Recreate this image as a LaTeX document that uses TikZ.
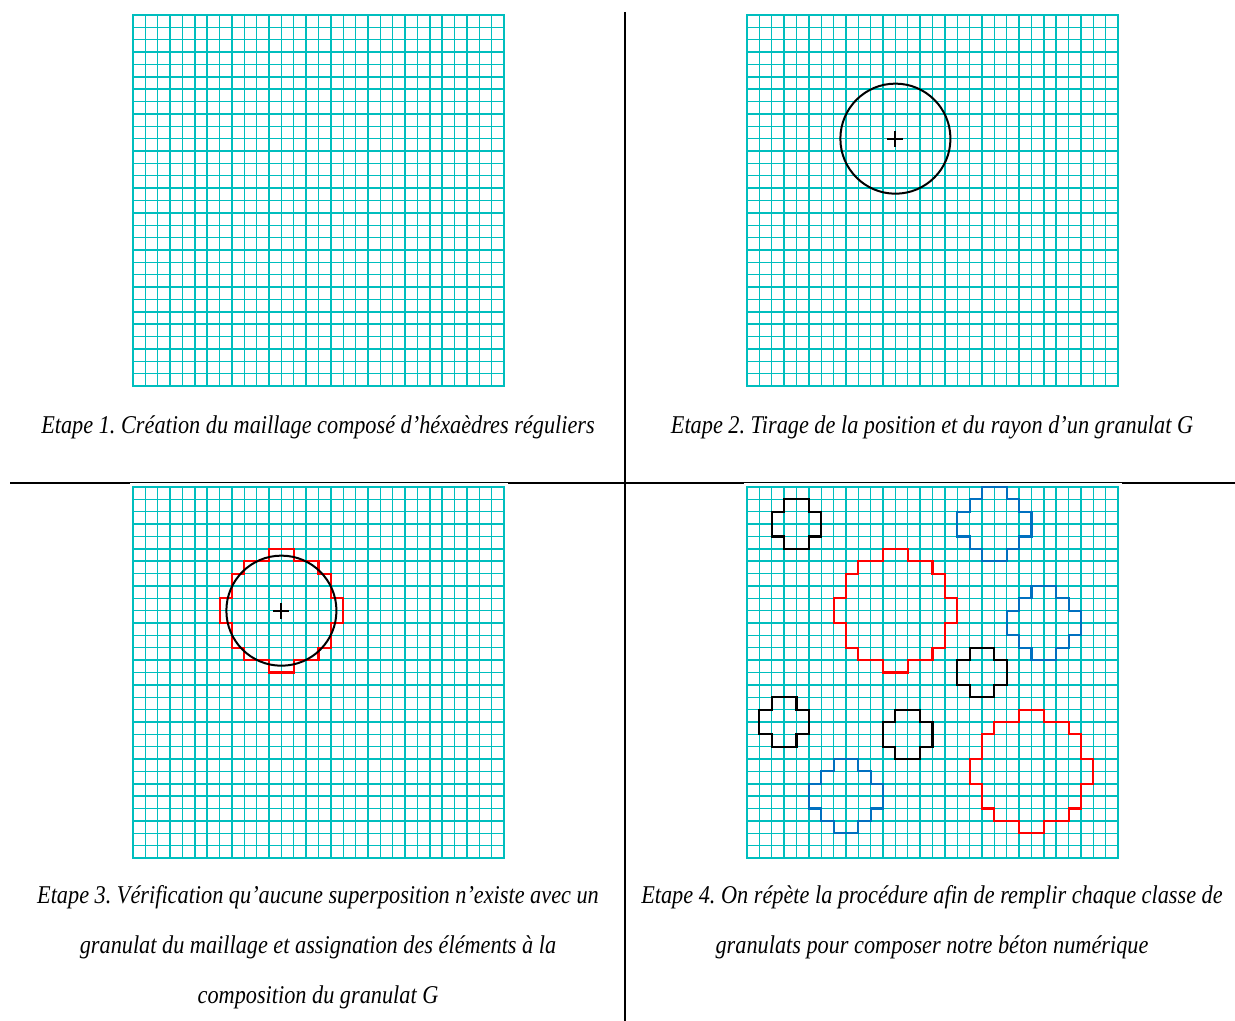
\documentclass[tikz,border=0pt]{standalone}
\usepackage{fontspec}
\setmainfont{Liberation Serif}[FakeStretch=0.87]
\usetikzlibrary{calc}
\frenchspacing
\definecolor{gridc}{RGB}{0,190,190}
\definecolor{granblue}{RGB}{0,112,192}
\definecolor{granred}{RGB}{255,0,0}
\tikzset{
  gridbar/.style={fill=gridc, draw=none},
  rule/.style={draw=black, line width=1pt},
  grain/.style={line width=1.05pt, line join=miter},
  caption/.style={font=\fontsize{12.8}{15}\selectfont\itshape, anchor=base, inner sep=0pt},
  cellunits/.style={x=6.18333pt, y=-6.18333pt},
}
% half width of a grid line, in cell units
\newcommand\hw{0.057}
\newcommand\meshgrid{%
  \foreach \k in {0,...,30}{%
    \fill[gridbar] (\k-\hw,-\hw) rectangle (\k+\hw,30+\hw);
    \fill[gridbar] (-\hw,\k-\hw) rectangle (30+\hw,\k+\hw);
  }}
\newcommand\grainL[2]{\draw[grain,#1,shift={(#2)}] (-1,-5) -- (1,-5) -- (1,-4) -- (3,-4) -- (3,-3) -- (4,-3) -- (4,-1) -- (5,-1) -- (5,1) -- (4,1) -- (4,3) -- (3,3) -- (3,4) -- (1,4) -- (1,5) -- (-1,5) -- (-1,4) -- (-3,4) -- (-3,3) -- (-4,3) -- (-4,1) -- (-5,1) -- (-5,-1) -- (-4,-1) -- (-4,-3) -- (-3,-3) -- (-3,-4) -- (-1,-4) -- cycle;}
\newcommand\grainM[2]{\draw[grain,#1,shift={(#2)}] (-1,-3) -- (1,-3) -- (1,-2) -- (2,-2) -- (2,-1) -- (3,-1) -- (3,1) -- (2,1) -- (2,2) -- (1,2) -- (1,3) -- (-1,3) -- (-1,2) -- (-2,2) -- (-2,1) -- (-3,1) -- (-3,-1) -- (-2,-1) -- (-2,-2) -- (-1,-2) -- cycle;}
\newcommand\grainS[2]{\draw[grain,#1,shift={(#2)}] (-1,-2) -- (1,-2) -- (1,-1) -- (2,-1) -- (2,1) -- (1,1) -- (1,2) -- (-1,2) -- (-1,1) -- (-2,1) -- (-2,-1) -- (-1,-1) -- cycle;}
\newcommand\grainmark[1]{%
  \draw[line width=1pt] (#1) circle[radius=4.45];
  \draw[line width=1pt] ($(#1)+(-0.65,0)$) -- ($(#1)+(0.65,0)$) ($(#1)+(0,-0.65)$) -- ($(#1)+(0,0.65)$);}
\begin{document}
\begin{tikzpicture}[x=0.5pt,y=-0.5pt]
\useasboundingbox (0,0) rectangle (1235,1021);
\fill[white] (0,0) rectangle (1235,1021);
% separators
\draw[rule] (625,12) -- (625,1021);
\draw[rule] (10,483) -- (1235,483);
\fill[white] (130,483) rectangle (508,860);
\fill[white] (744,483) rectangle (1122,860);
% panel 1
\begin{scope}[shift={(133,15)},cellunits]
  \meshgrid
\end{scope}
% panel 2
\begin{scope}[shift={(747,15)},cellunits]
  \meshgrid
  \grainmark{12,10}
\end{scope}
% panel 3
\begin{scope}[shift={(133,487)},cellunits]
  \meshgrid
  \grainL{granred}{12,10}
  \grainmark{12,10}
\end{scope}
% panel 4
\begin{scope}[shift={(747,487)},cellunits]
  \meshgrid
  \grainS{black}{4,3}
  \grainS{black}{19,15}
  \grainS{black}{3,19}
  \grainS{black}{13,20}
  \grainM{granblue}{20,3}
  \grainM{granblue}{24,11}
  \grainM{granblue}{8,25}
  \grainL{granred}{12,10}
  \grainL{granred}{23,23}
\end{scope}
% captions
\node[caption] (cap1) at (318,433) {Etape 1. Création du maillage composé d’héxaèdres réguliers};
\node[caption] (cap2) at (932,433) {Etape 2. Tirage de la position et du rayon d’un granulat G};
\node[caption] (cap3a) at (318,903) {Etape 3. Vérification qu’aucune superposition n’existe avec un};
\node[caption] (cap3b) at (318,953) {granulat du maillage et assignation des éléments à la};
\node[caption] (cap3c) at (318,1003) {composition du granulat G};
\node[caption] (cap4a) at (932,903) {Etape 4. On répète la procédure afin de remplir chaque classe de};
\node[caption] (cap4b) at (932,953) {granulats pour composer notre béton numérique};
\end{tikzpicture}
\end{document}
